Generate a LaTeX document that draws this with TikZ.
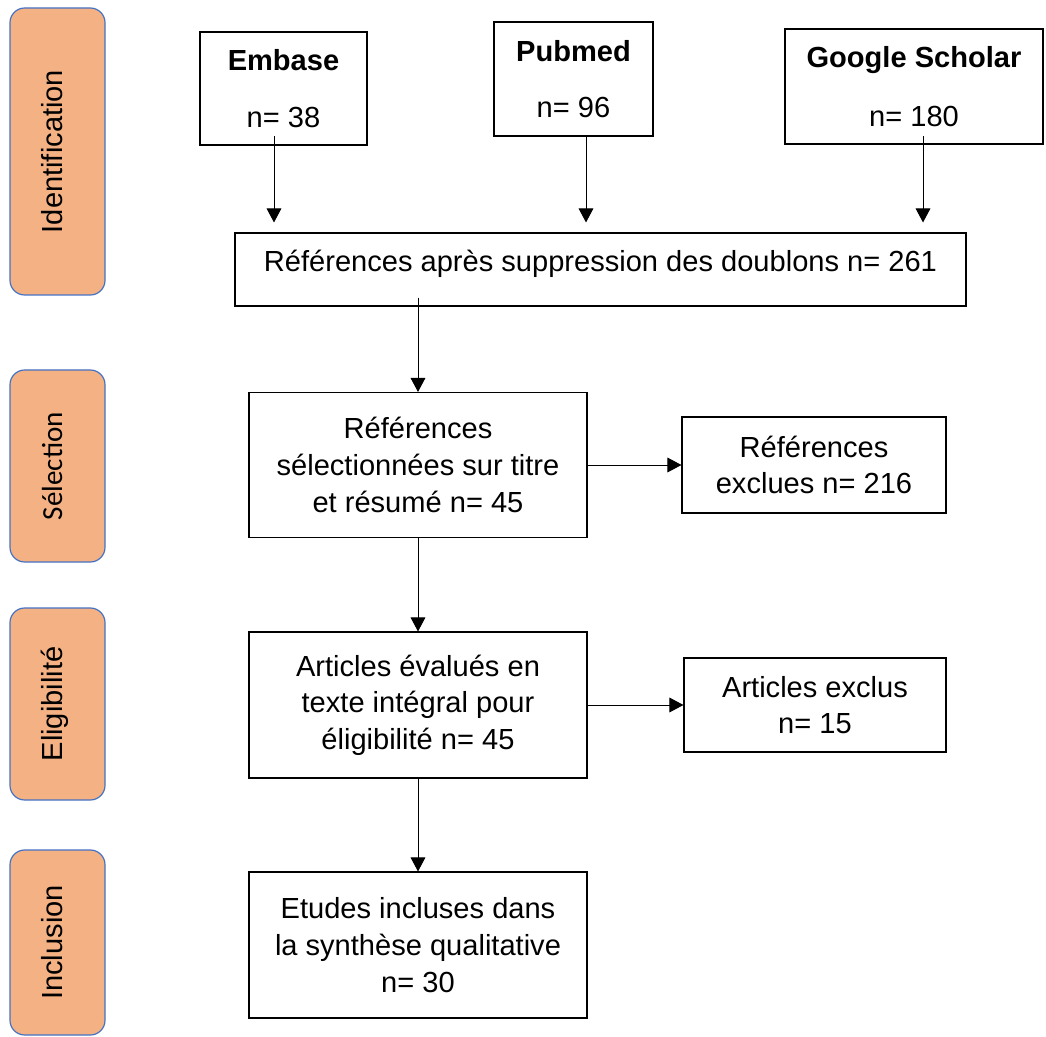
\documentclass[tikz,border=0pt]{standalone}
\definecolor{phaseorange}{HTML}{F4B183}
\definecolor{phaseblue}{HTML}{4472C4}
\usepackage{fontspec}
\setmainfont{Liberation Sans}
\newfontfamily\carlito{Carlito}
\usepackage{tikz}
\usetikzlibrary{arrows.meta, calc}

\begin{document}
\begin{tikzpicture}[x=0.75pt, y=-0.75pt,
    every node/.style={font=\fontsize{21.8}{27.5}\selectfont},
    phase/.style={draw=phaseblue, fill=phaseorange, line width=0.9pt, rounded corners=11pt,
      rotate=90, minimum height=71.25pt, text height=16pt, text depth=9pt, inner sep=0pt},
    src/.style={draw, line width=1.3pt, align=center, inner sep=0pt},
    box/.style={draw, line width=0.8pt, align=center, inner sep=0pt},
    arr/.style={-{Triangle[length=10.5pt, width=11pt]}, line width=0.75pt}]
    \useasboundingbox (0,0) rectangle (1046,1037);
    % Phase boxes
    \node[phase, minimum width=215.25pt] (ident) at (57.5,151.5) {Identification};
    \node[phase, minimum width=144pt] (selphase) at (57.5,466) {\carlito Sélection};
    \node[phase, minimum width=144pt] (eligphase) at (57.5,704) {Eligibilité};
    \node[phase, minimum width=138.75pt] (inclphase) at (57.5,942.5) {Inclusion};
    % Sources
    \node[src, minimum width=125.25pt, minimum height=84.75pt] (embase) at (283.5,88.5)
      {\textbf{Embase}\\[15pt]n= 38};
    \node[src, minimum width=119.25pt, minimum height=85.5pt] (pubmed) at (573.5,79)
      {\textbf{Pubmed}\\[14.5pt]n= 96};
    \node[src, minimum width=193.5pt, minimum height=86.25pt] (scholar) at (914,86.5)
      {\textbf{Google Scholar}\\[16.75pt]n= 180};
    % Screening steps
    \node[box, minimum width=548.25pt, minimum height=54.75pt, text height=16pt, text depth=12.25pt]
      (refs) at (600.5,269.5) {Références après suppression des doublons n= 261};
    \node[box, minimum width=253.5pt, minimum height=108.75pt] (selec) at (418,465)
      {Références\\sélectionnées sur titre\\et résumé n= 45};
    \node[box, minimum width=198pt, minimum height=72pt] (refexcl) at (814,465)
      {Références\\exclues n= 216};
    \node[box, minimum width=253.5pt, minimum height=109.5pt] (elig) at (418,705)
      {Articles évalués en\\texte intégral pour\\éligibilité n= 45};
    \node[box, minimum width=196.5pt, minimum height=70.5pt] (artexcl) at (815,705)
      {Articles exclus\\n= 15};
    \node[box, minimum width=253.5pt, minimum height=109.5pt] (incl) at (418,945)
      {Etudes incluses dans\\la synthèse qualitative\\n= 30};
    % Arrow columns
    \coordinate (col1) at (274,0);
    \coordinate (col2) at (586,0);
    \coordinate (col3) at (923,0);
    % Arrows
    \draw[arr, shorten <=-7.5pt, shorten >=7.5pt] (embase.south -| col1) -- (refs.north -| col1);
    \draw[arr, shorten >=7.5pt] (pubmed.south -| col2) -- (refs.north -| col2);
    \draw[arr, shorten <=-6.75pt, shorten >=7.5pt] (scholar.south -| col3) -- (refs.north -| col3);
    \draw[arr, shorten <=-6.75pt] (refs.south -| selec.north) -- (selec.north);
    \draw[arr] (selec.east) -- (refexcl.west);
    \draw[arr] (selec.south) -- (elig.north);
    \draw[arr] (elig.east) -- (artexcl.west);
    \draw[arr] (elig.south) -- (incl.north);
\end{tikzpicture}
\end{document}
